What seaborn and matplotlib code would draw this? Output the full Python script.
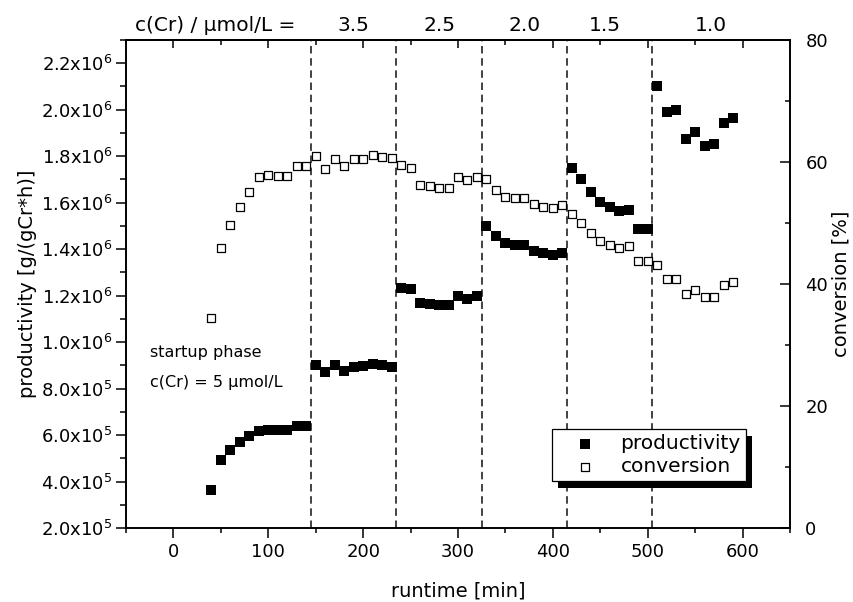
import matplotlib
matplotlib.use("Agg")
import numpy as np
import pandas as pd
import matplotlib.pyplot as plt
import seaborn as sns
from matplotlib.patches import Rectangle
from matplotlib.transforms import IdentityTransform
from matplotlib.ticker import MultipleLocator, FuncFormatter

# runtime [min] of every sample
runtime = [40, 50, 60, 70, 80, 90, 100, 110, 120, 130, 140,
           150, 160, 170, 180, 190, 200, 210, 220, 230,
           240, 250, 260, 270, 280, 290, 300, 310, 320,
           330, 340, 350, 360, 370, 380, 390, 400, 410,
           420, 430, 440, 450, 460, 470, 480, 490, 500,
           510, 520, 530, 540, 550, 560, 570, 580, 590]

# productivity [g/(gCr*h)]
productivity = [3.65e5, 4.92e5, 5.35e5, 5.70e5, 5.95e5, 6.18e5, 6.22e5, 6.20e5, 6.20e5, 6.38e5, 6.38e5,
                9.00e5, 8.73e5, 9.00e5, 8.75e5, 8.94e5, 8.98e5, 9.04e5, 9.01e5, 8.94e5,
                1.233e6, 1.227e6, 1.170e6, 1.163e6, 1.158e6, 1.160e6, 1.199e6, 1.184e6, 1.199e6,
                1.499e6, 1.456e6, 1.426e6, 1.416e6, 1.416e6, 1.394e6, 1.383e6, 1.376e6, 1.385e6,
                1.751e6, 1.701e6, 1.645e6, 1.603e6, 1.582e6, 1.562e6, 1.570e6, 1.488e6, 1.488e6,
                2.103e6, 1.990e6, 1.997e6, 1.874e6, 1.905e6, 1.845e6, 1.852e6, 1.944e6, 1.964e6]

# conversion [%]
conversion = [34.4, 45.9, 49.6, 52.7, 55.1, 57.6, 57.9, 57.7, 57.7, 59.4, 59.3,
              61.0, 58.9, 60.5, 59.4, 60.5, 60.5, 61.1, 60.8, 60.6,
              59.5, 59.0, 56.2, 56.0, 55.7, 55.8, 57.6, 57.1, 57.6,
              57.2, 55.4, 54.3, 54.1, 54.1, 53.1, 52.7, 52.5, 52.9,
              51.5, 50.0, 48.4, 47.1, 46.4, 45.9, 46.2, 43.7, 43.8,
              43.1, 40.8, 40.9, 38.4, 39.0, 37.8, 37.9, 39.8, 40.3]

# changes of the Cr concentration
phase_starts = [145, 235, 325, 415, 505]
cr_levels = ["3.5", "2.5", "2.0", "1.5", "1.0"]
cr_label_x = [190, 280, 370, 455, 567]

df = pd.DataFrame({"runtime": runtime, "productivity": productivity,
                   "conversion": conversion})

sns.set_style("ticks")
plt.rcParams["font.family"] = ["DejaVu Sans"]
plt.rcParams["mathtext.fontset"] = "dejavusans"
for key in ["text.color", "axes.labelcolor", "xtick.color", "ytick.color", "axes.edgecolor"]:
    plt.rcParams[key] = "black"

fig = plt.figure(figsize=(8.54, 6.02), dpi=100)
ax = fig.add_axes([126 / 854, 74 / 602, 664 / 854, 488 / 602])

for xv in phase_starts:
    ax.axvline(xv, color="#222222", lw=1.2, ls=(0, (4.5, 2.8)), zorder=1)

sns.scatterplot(data=df, x="runtime", y="productivity", ax=ax, marker="s", s=58,
                color="black", edgecolor="black", linewidth=0,
                label="productivity", legend=False, zorder=3)

ax2 = ax.twinx()
sns.scatterplot(data=df, x="runtime", y="conversion", ax=ax2, marker="s", s=40,
                facecolor="white", edgecolor="black", linewidth=0.9,
                label="conversion", legend=False, zorder=3)

ax.set_xlim(-50, 650)
ax.set_ylim(2e5, 2.3e6)
ax2.set_ylim(0, 80)

ax.xaxis.set_major_locator(MultipleLocator(100))
ax.xaxis.set_minor_locator(MultipleLocator(50))
ax.yaxis.set_major_locator(MultipleLocator(2e5))
ax.yaxis.set_minor_locator(MultipleLocator(1e5))
ax2.yaxis.set_major_locator(MultipleLocator(20))
ax2.yaxis.set_minor_locator(MultipleLocator(10))


def sci_label(v, pos):
    if v <= 0:
        return ""
    e = int(np.floor(np.log10(v) + 1e-9))
    return f"{v / 10 ** e:.1f}x10$^{{{e}}}$"


ax.yaxis.set_major_formatter(FuncFormatter(sci_label))

ax.tick_params(axis="x", which="major", direction="out", length=7, width=1.1, labelsize=13, pad=4)
ax.tick_params(axis="x", which="minor", direction="out", length=3.8, width=1.1)
ax.tick_params(axis="y", which="major", direction="out", length=7.5, width=1.1, labelsize=13, pad=2)
ax.tick_params(axis="y", which="minor", direction="out", length=4.5, width=1.1)
ax2.tick_params(axis="y", which="major", direction="in", length=7, width=1.1, labelsize=13, pad=11)
ax2.tick_params(axis="y", which="minor", direction="in", length=3.5, width=1.1)

secx = ax.secondary_xaxis("top")
secx.xaxis.set_major_locator(MultipleLocator(100))
secx.xaxis.set_minor_locator(MultipleLocator(50))
secx.tick_params(axis="x", which="major", direction="in", length=6, width=1.1, labeltop=False)
secx.tick_params(axis="x", which="minor", direction="in", length=3.5, width=1.1)

for a in (ax, ax2):
    for sp in a.spines.values():
        sp.set_linewidth(1.2)
secx.spines["top"].set_linewidth(1.2)

ax.set_xlabel("runtime [min]", fontsize=14)
ax.set_ylabel("productivity [g/(gCr*h)]", fontsize=14)
ax2.set_ylabel("conversion [%]", fontsize=14)
ax.xaxis.set_label_coords(0.5, -0.11)
ax.yaxis.set_label_coords(-0.134, 0.5)
ax2.yaxis.set_label_coords(1.062, 0.5)

ax.text(-25, 9.37e5, "startup phase", fontsize=11.5, va="baseline", ha="left")
ax.text(-25, 8.08e5, "c(Cr) = 5 µmol/L", fontsize=11.5, va="baseline", ha="left")

top = ax.get_xaxis_transform()
ax.text(-40, 1.018, "c(Cr) / µmol/L =", transform=top, fontsize=14.5, va="baseline", ha="left")
for xv, lev in zip(cr_label_x, cr_levels):
    ax.text(xv, 1.018, lev, transform=top, fontsize=14.5, va="baseline", ha="center")

h1, l1 = ax.get_legend_handles_labels()
h2, l2 = ax2.get_legend_handles_labels()
leg = ax2.legend(h1 + h2, l1 + l2, loc="upper left", bbox_to_anchor=(0.641, 0.203),
                 borderaxespad=0, fontsize=14.5, frameon=True, fancybox=False,
                 framealpha=1, edgecolor="black", borderpad=0.25, handlelength=2.8,
                 handletextpad=0.37, labelspacing=0.2, scatterpoints=1)
leg.get_frame().set_linewidth(0.9)

# solid black drop shadow behind the legend box
fig.canvas.draw()
bb = leg.get_window_extent()
shadow = Rectangle((bb.x0 + 6.7, bb.y0 - 6.7), bb.width, bb.height,
                   transform=IdentityTransform(), facecolor="black", edgecolor="none",
                   zorder=leg.get_zorder() - 0.1)
ax2.add_artist(shadow)
shadow.set_clip_on(False)

fig.savefig("out.png", dpi=100)
